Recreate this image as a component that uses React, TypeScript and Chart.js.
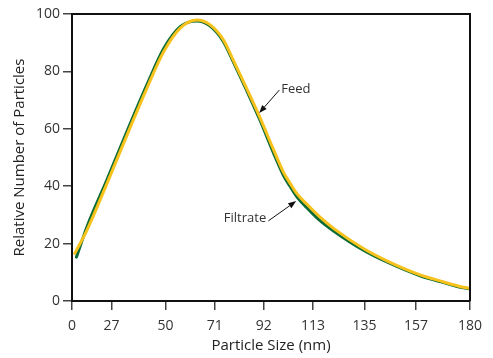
import React, { useEffect, useRef } from "react";
import { Chart, registerables } from "chart.js";

Chart.register(...registerables);

// ---- data ----
const xTickLabels = [0, 27, 50, 71, 92, 113, 135, 157, 180];
const yTickValues = [0, 20, 40, 60, 80, 100];

const feedSize = [11.3, 16.5, 25.1, 35.0, 42.1, 49.2, 56.3, 63.5, 69.1, 74.8, 78.9, 84.8, 90.4, 96.1, 100.4, 103.3, 106.1, 110.5, 116.0, 121.6, 134.5, 144.5, 158.7, 167.2, 177.1, 180];
const feedValues = [16.6, 24.7, 41.1, 60.6, 74.2, 86.8, 95.1, 97.9, 96.2, 90.9, 84.0, 73.8, 63.8, 52.8, 44.8, 40.9, 37.4, 33.6, 29.2, 25.4, 18.3, 14.0, 9.1, 7.0, 4.8, 4.4];

const filtrateSize = [12.0, 16.5, 25.1, 35.0, 42.1, 49.2, 56.3, 63.5, 69.1, 74.8, 78.9, 84.8, 90.4, 96.1, 100.4, 103.3, 106.1, 110.5, 116.0, 121.6, 134.5, 144.5, 158.7, 167.2, 177.1, 180];
const filtrateValues = [15.3, 25.9, 42.4, 61.9, 75.4, 87.9, 95.6, 97.6, 95.8, 90.3, 83.4, 73.1, 62.9, 51.6, 43.7, 39.8, 36.3, 32.4, 28.0, 24.5, 17.7, 13.6, 8.8, 6.8, 4.6, 4.3];

// axis origin (the left edge of the plot, labelled "0")
const X_ORIGIN = 10.1;
const X_MAX = 180;

// callouts in data units
const callouts = [
  { text: "Feed", tip: [90.0, 65.5], tail: [98.6, 73.5], label: [99.4, 73.9], align: "left" as CanvasTextAlign },
  { text: "Filtrate", tip: [105.8, 34.8], tail: [93.9, 27.9], label: [93.0, 28.9], align: "right" as CanvasTextAlign },
];

const FONT = "'Open Sans', 'DejaVu Sans', sans-serif";

const toPoints = (xs: number[], ys: number[]) => xs.map((x, i) => ({ x, y: ys[i] }));

const annotationPlugin = {
  id: "annotations",
  afterDatasetsDraw(chart: any) {
    const { ctx, chartArea } = chart;
    const xs = chart.scales.x;
    const ys = chart.scales.y;
    ctx.save();
    // frame (top and right)
    ctx.strokeStyle = "#111";
    ctx.lineWidth = 2;
    ctx.beginPath();
    ctx.moveTo(chartArea.left, chartArea.top);
    ctx.lineTo(chartArea.right, chartArea.top);
    ctx.lineTo(chartArea.right, chartArea.bottom);
    ctx.stroke();

    for (const c of callouts) {
      const tx = xs.getPixelForValue(c.tip[0]);
      const ty = ys.getPixelForValue(c.tip[1]);
      const sx = xs.getPixelForValue(c.tail[0]);
      const sy = ys.getPixelForValue(c.tail[1]);
      const ang = Math.atan2(ty - sy, tx - sx);
      const headLen = 8;
      const headW = 3;
      const bx = tx - headLen * Math.cos(ang);
      const by = ty - headLen * Math.sin(ang);
      ctx.strokeStyle = "#111";
      ctx.lineWidth = 1;
      ctx.beginPath();
      ctx.moveTo(sx, sy);
      ctx.lineTo(bx, by);
      ctx.stroke();
      ctx.fillStyle = "#111";
      ctx.beginPath();
      ctx.moveTo(tx, ty);
      ctx.lineTo(bx + headW * Math.sin(ang), by - headW * Math.cos(ang));
      ctx.lineTo(bx - headW * Math.sin(ang), by + headW * Math.cos(ang));
      ctx.closePath();
      ctx.fill();

      ctx.fillStyle = "#333";
      ctx.font = `13px ${FONT}`;
      ctx.textAlign = c.align;
      ctx.textBaseline = "middle";
      ctx.fillText(c.text, xs.getPixelForValue(c.label[0]), ys.getPixelForValue(c.label[1]));
    }
    ctx.restore();
  },
};

export default function App() {
  const canvasRef = useRef<HTMLCanvasElement | null>(null);

  useEffect(() => {
    if (!canvasRef.current) return;
    const chart = new Chart(canvasRef.current, {
      type: "line",
      data: {
        datasets: [
          {
            label: "Feed",
            data: toPoints(feedSize, feedValues),
            borderColor: "#F8C21C",
            borderWidth: 3,
            pointRadius: 0,
            fill: false,
            cubicInterpolationMode: "monotone",
            borderCapStyle: "round",
          },
          {
            label: "Filtrate",
            data: toPoints(filtrateSize, filtrateValues),
            borderColor: "#0B6B36",
            borderWidth: 3,
            pointRadius: 0,
            fill: false,
            cubicInterpolationMode: "monotone",
            borderCapStyle: "round",
          },
        ],
      },
      options: {
        animation: false,
        responsive: false,
        maintainAspectRatio: false,
        layout: { padding: { left: 0, right: 23, top: 14, bottom: 0 } },
        plugins: { legend: { display: false }, tooltip: { enabled: false } },
        scales: {
          x: {
            type: "linear",
            min: X_ORIGIN,
            max: X_MAX,
            afterBuildTicks: (scale: any) => {
              scale.ticks = xTickLabels.map((v) => ({ value: Math.max(v, X_ORIGIN) }));
            },
            afterFit: (scale: any) => {
              scale.height = 57;
            },
            ticks: {
              autoSkip: false,
              maxRotation: 0,
              padding: 8,
              color: "#333",
              font: { family: FONT, size: 14 },
              callback: (_v: any, i: number) => String(xTickLabels[i]),
            },
            grid: { drawOnChartArea: false, drawTicks: true, tickLength: 9, color: "#444", lineWidth: 1.5 },
            border: { display: true, color: "#111", width: 2 },
            title: {
              display: true,
              text: "Particle Size (nm)",
              color: "#222",
              font: { family: FONT, size: 15 },
              padding: { top: 3, bottom: 3 },
            },
          },
          y: {
            type: "linear",
            min: 0,
            max: 100,
            afterBuildTicks: (scale: any) => {
              scale.ticks = yTickValues.map((v) => ({ value: v }));
            },
            afterFit: (scale: any) => {
              scale.width = 72;
            },
            ticks: {
              padding: 3,
              color: "#333",
              font: { family: FONT, size: 14 },
            },
            grid: { drawOnChartArea: false, drawTicks: true, tickLength: 9, color: "#444", lineWidth: 1.5 },
            border: { display: true, color: "#111", width: 2 },
            title: {
              display: true,
              text: "Relative Number of Particles",
              color: "#222",
              font: { family: FONT, size: 15 },
              padding: { top: 11, bottom: 11 },
            },
          },
        },
      },
      plugins: [annotationPlugin],
    });
    return () => chart.destroy();
  }, []);

  return (
    <div style={{ position: "absolute", left: 0, top: 0, width: 493, height: 358, background: "#fff" }}>
      <canvas ref={canvasRef} width={493} height={358} style={{ width: 493, height: 358, display: "block" }} />
    </div>
  );
}
